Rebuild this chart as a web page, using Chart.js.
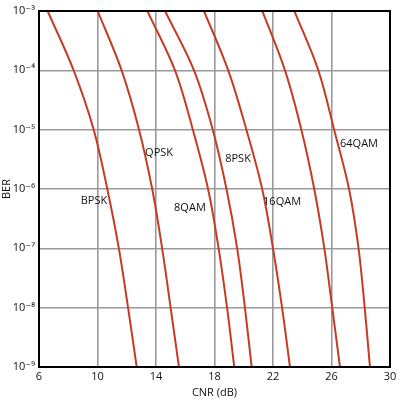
<!DOCTYPE html>
<html>
<head>
<meta charset="utf-8">
<script src="https://cdn.jsdelivr.net/npm/chart.js@4"></script>
<style>
  html, body { margin: 0; padding: 0; background: #fff; }
  #wrap { width: 420px; height: 399px; }
</style>
</head>
<body>
<div id="wrap"><canvas id="berChart" width="420" height="399"></canvas></div>
<script>
/******************************************************************
DATA
******************************************************************/

// BER levels where the curves were read (one per decade)
var berLevels = [1e-3, 1e-4, 1e-5, 1e-6, 1e-7, 1e-8, 1e-9];

// CNR (dB) of each curve at those BER levels
var cnrBPSK  = [6.59, 8.37, 9.74, 10.67, 11.46, 12.09, 12.68];
var cnrQPSK  = [10.01, 11.65, 12.84, 13.74, 14.42, 15.00, 15.57];
var cnr8QAM  = [13.41, 15.30, 16.52, 17.56, 18.28, 18.86, 19.35];
var cnr8PSK  = [14.62, 16.60, 17.88, 18.82, 19.55, 20.08, 20.54];
var cnr16QAM = [17.28, 18.94, 20.18, 21.26, 22.00, 22.62, 23.16];
var cnr16PSK = [21.27, 22.82, 23.94, 24.82, 25.51, 26.05, 26.58];
var cnr64QAM = [23.46, 25.10, 26.18, 27.20, 27.85, 28.27, 28.63];

var xTicks = [6, 10, 14, 18, 22, 26, 30];
var yTicks = [1e-9, 1e-8, 1e-7, 1e-6, 1e-5, 1e-4, 1e-3];
var yTickText = ["10\u207B\u2079", "10\u207B\u2078", "10\u207B\u2077", "10\u207B\u2076",
                 "10\u207B\u2075", "10\u207B\u2074", "10\u207B\u00B3"];

// curve labels and where they sit (CNR, BER)
var labelText = ["BPSK", "QPSK", "8QAM", "8PSK", "16QAM", "64QAM"];
var labelCnr  = [9.76, 14.21, 16.32, 19.61, 22.62, 27.88];
var labelBer  = [6.3e-7, 4.1e-6, 4.8e-7, 3.2e-6, 6.0e-7, 5.7e-6];

/******************************************************************
CHART
******************************************************************/

var curveColor = "rgb(196, 60, 38)";
var fontFamily = "'Open Sans', 'DejaVu Sans', sans-serif";

function toPoints(cnr) {
  var pts = [];
  for (var i = 0; i < cnr.length; i++) {
    pts.push({ x: cnr[i], y: berLevels[i] });
  }
  return pts;
}

var allCurves = [cnrBPSK, cnrQPSK, cnr8QAM, cnr8PSK, cnr16QAM, cnr16PSK, cnr64QAM];
var datasets = allCurves.map(function (c) {
  return {
    data: toPoints(c),
    borderColor: curveColor,
    borderWidth: 2,
    pointRadius: 0,
    fill: false,
    tension: 0.35
  };
});

// text labels next to the curves
var curveLabels = {
  id: "curveLabels",
  afterDatasetsDraw: function (chart) {
    var ctx = chart.ctx;
    var xs = chart.scales.x;
    var ys = chart.scales.y;
    ctx.save();
    ctx.fillStyle = "#111";
    ctx.font = "11px " + fontFamily;
    ctx.textAlign = "center";
    ctx.textBaseline = "middle";
    for (var i = 0; i < labelText.length; i++) {
      ctx.fillText(labelText[i], xs.getPixelForValue(labelCnr[i]), ys.getPixelForValue(labelBer[i]));
    }
    ctx.restore();
  }
};

// black frame round the plot
var frame = {
  id: "frame",
  afterDraw: function (chart) {
    var a = chart.chartArea;
    var ctx = chart.ctx;
    ctx.save();
    ctx.strokeStyle = "#000";
    ctx.lineWidth = 2;
    ctx.strokeRect(a.left, a.top, a.right - a.left, a.bottom - a.top);
    ctx.restore();
  }
};

new Chart(document.getElementById("berChart").getContext("2d"), {
  type: "line",
  data: { datasets: datasets },
  plugins: [curveLabels, frame],
  options: {
    responsive: false,
    animation: false,
    layout: { padding: { top: 11, right: 30, left: 0, bottom: 0 } },
    plugins: { legend: { display: false }, tooltip: { enabled: false } },
    scales: {
      x: {
        type: "linear",
        min: 6,
        max: 30,
        afterBuildTicks: function (scale) {
          scale.ticks = xTicks.map(function (v) { return { value: v }; });
        },
        afterFit: function (scale) { scale.height = 32; },
        grid: { color: "#9a9a9e", lineWidth: 1.6, drawTicks: false },
        border: { display: false },
        ticks: { color: "#111", font: { family: fontFamily, size: 11 }, padding: 3, maxRotation: 0 },
        title: {
          display: true,
          text: "CNR (dB)",
          color: "#111",
          font: { family: fontFamily, size: 11 },
          padding: { top: 0, bottom: 0 }
        }
      },
      y: {
        type: "logarithmic",
        min: 1e-9,
        max: 1e-3,
        afterBuildTicks: function (scale) {
          scale.ticks = yTicks.map(function (v) { return { value: v }; });
        },
        afterFit: function (scale) { scale.width = 39; },
        grid: { color: "#9a9a9e", lineWidth: 1.6, drawTicks: false },
        border: { display: false },
        ticks: {
          color: "#111",
          font: { family: fontFamily, size: 11 },
          padding: 4,
          callback: function (value) {
            var idx = yTicks.indexOf(value);
            return idx >= 0 ? yTickText[idx] : "";
          }
        },
        title: {
          display: true,
          text: "BER",
          color: "#111",
          font: { family: fontFamily, size: 11 },
          padding: { top: 0, bottom: 0 }
        }
      }
    }
  }
});
</script>
</body>
</html>
